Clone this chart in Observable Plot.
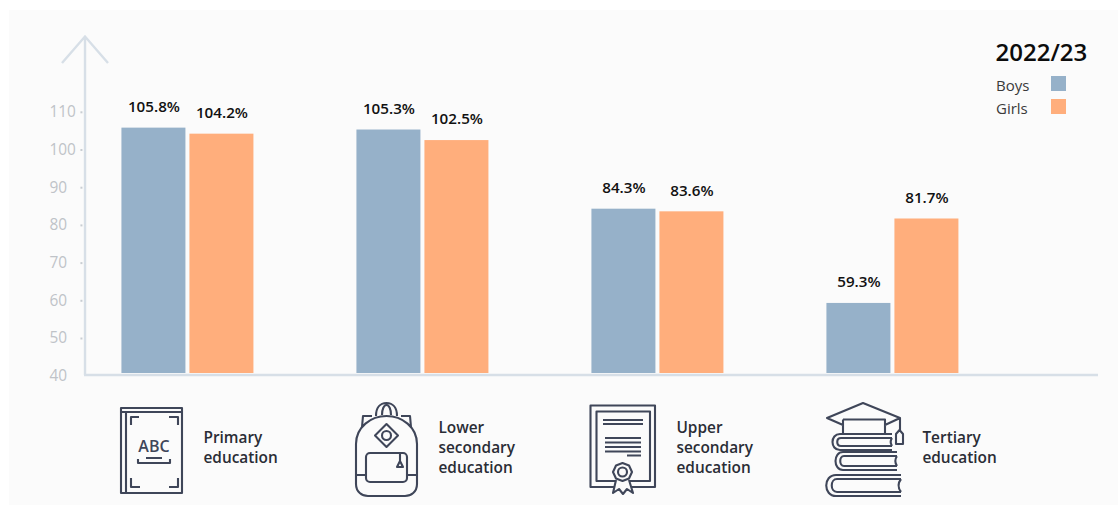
<!DOCTYPE html>
<html><head><meta charset="utf-8">
<script src="https://cdn.jsdelivr.net/npm/d3@7"></script>
<script src="https://cdn.jsdelivr.net/npm/@observablehq/plot@0.6"></script>
<style>
html,body{margin:0;padding:0;background:#fff;}
#panel{position:absolute;left:9px;top:10px;width:1109px;height:495px;background:#fbfbfb;}
#chart{position:absolute;left:0;top:0;}
svg text{font-family:"Open Sans",sans-serif;}
</style></head>
<body><div id="panel"></div><div id="chart"></div>
<script>
const categories = ["Primary education","Lower secondary education","Upper secondary education","Tertiary education"];
const categoryLabels = ["Primary\neducation","Lower\nsecondary\neducation","Upper\nsecondary\neducation","Tertiary\neducation"];
const boys = [105.8,105.3,84.3,59.3];
const girls = [104.2,102.5,83.6,81.7];
const genders = ["Boys","Girls"];
const yearLabel = "2022/23";
const yTicks = [40,50,60,70,80,90,100,110];
const colors = ["#96b1c9","#ffae7c"];
const labelDx = [15.5,15.5,18.5,29.5];

const rows = categories.flatMap((c,i)=>[
  {category:c,gender:"Boys",value:boys[i]},
  {category:c,gender:"Girls",value:girls[i]}
]);
const iconColor = "#3f4659";
const axisColor = "#d7dfe7";
const panelColor = "#fbfbfb";

const plot = Plot.plot({
  width:1118,height:506,
  marginLeft:85,marginRight:20,marginTop:36.4,marginBottom:130.3,
  style:{background:"transparent",fontFamily:"'Open Sans',sans-serif"},
  fx:{domain:categories,round:false,paddingInner:103/235,paddingOuter:0.3745,align:0.207,axis:null,label:null},
  x:{domain:genders,round:false,paddingInner:4/68,paddingOuter:0,axis:null,label:null},
  y:{domain:[40,130],label:null,axis:null},
  color:{domain:genders,range:colors},
  marks:[
    Plot.axisY({ticks:yTicks.slice(1),facetAnchor:"left",anchor:"left",text:null,tickSize:2,strokeWidth:2,stroke:"#c8cdd2",dx:-39,label:null,marginLeft:85}),
    Plot.axisY({ticks:yTicks,facetAnchor:"left",anchor:"left",tickSize:0,tickPadding:0,dx:-72.5,textAnchor:"start",
      fill:"#bfc3c8",fontSize:15.4,label:null,tickFormat:d=>String(d),marginLeft:85,textStroke:"none"}),
    Plot.barY(rows,{fx:"category",x:"gender",y1:()=>40,y2:"value",fill:"gender",insetBottom:2.7}),
    Plot.text(rows,{fx:"category",x:"gender",y:"value",text:d=>d.value.toFixed(1)+"%",dy:-21,
      fontSize:15.2,fontWeight:600,fill:"#111"}),
    ...categories.map((c,i)=>Plot.text([categoryLabels[i]],{fx:()=>c,text:d=>d,frameAnchor:"bottom",
      dx:labelDx[i],dy:70.5,textAnchor:"start",lineAnchor:"middle",lineHeight:1.3,fontSize:15.4,fontWeight:600,fill:"#2a2d36"}))
  ]
});
document.getElementById("chart").appendChild(plot);

// Axis decoration, legend and pictograms drawn in the page coordinate space
const s = d3.select(plot);
const deco = s.insert("g",":first-child");
deco.append("path").attr("d","M85 375V36.500M62 63L85 36.500L108 63M84 375H1098")
  .attr("fill","none").attr("stroke",axisColor).attr("stroke-width",2.4);

const lg = s.append("g").attr("text-anchor","start");
lg.append("text").attr("x",995.5).attr("y",61).attr("font-size",24).attr("font-weight",600).attr("fill","#0c0c0c").text(yearLabel);
genders.forEach((g,i)=>{
  lg.append("text").attr("x",996).attr("y",91+23*i).attr("font-size",15).attr("fill","#3a3a3a").text(g);
  lg.append("rect").attr("x",1051).attr("y",76+23*i).attr("width",15).attr("height",15).attr("fill",colors[i]);
});

const ic = s.append("g").attr("fill","none").attr("stroke",iconColor).attr("stroke-width",2.1).attr("stroke-linejoin","round");
// book
ic.append("path").attr("d","M121 408H182V493H121ZM121 412H182M126 412V493M131 425V417H139M169 417H178V425M131 478V487H140M169 487H178V478M138 459V463H170V459M146 458H162");
ic.append("text").attr("x",154).attr("y",452).attr("text-anchor","middle").attr("font-size",16).attr("font-weight",600)
  .attr("fill",iconColor).attr("stroke","none").text("ABC");
// backpack
ic.append("path").attr("d","M356 444C356 427 371 416 386.500 416C402 416 417 427 417 444V484C417 492 411 496 405 496H368C362 496 356 492 356 484ZM376 416C376 408 380 403 386.500 403C393 403 397 408 397 416M382 415C382 409 384 405 386.500 405C389 405 391 409 391 415M362 427L363 416H372M411 427L410 416H401M386.500 424L398 435.500L386.500 447L375 435.500ZM356 475H366M407 475H417M400 453V461M397 467L400 461L403 467Z");
ic.append("circle").attr("cx",386.5).attr("cy",435.5).attr("r",4.5);
ic.append("rect").attr("x",366).attr("y",453).attr("width",41).attr("height",29).attr("rx",4);
// diploma
ic.append("path").attr("d","M590.500 405.500H655V487H590.500ZM596.500 411.500H650V481H596.500ZM603 420H643M603 424H643M605 438H641M605 442.500H641M605 447H641M605 451.500H641M627 455.500H641");
ic.append("path").attr("d","M616 480L613 493L619 489L623 494L627 489L633 493L629 480").attr("fill",panelColor);
ic.append("path").attr("d","M622.500 463L629 465.500L632 472L629 478.500L622.500 481L616 478.500L613 472L616 465.500Z").attr("fill",panelColor);
ic.append("circle").attr("cx",622.500).attr("cy",472).attr("r",4.500);
// books & cap
ic.append("path").attr("d","M843 425L827 418L863 403L900 418L885 425M843 419.500H885V434M843 419.500V434M900 418V431M896 444V434L899.500 430L903 434V444ZM892 434H840C830 434 830 450 840 450H892M892 438H841C836 438 836 446 841 446H892M892 438C890 441 890 443 892 446M897 452H843C833 452 833 470 843 470H897M897 456H844C839 456 839 466 844 466H897M897 456C895 459 895 463 897 466M901 475H836C823 475 823 496 836 496H901M901 479H837C830 479 830 492 837 492H901M901 479C898 483 898 488 901 492");
</script></body></html>
